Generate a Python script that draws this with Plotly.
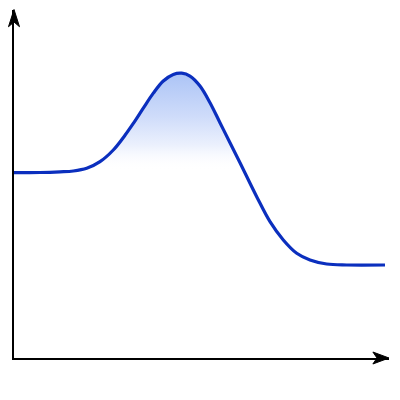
import plotly.graph_objects as go

# Reaction coordinate (x) and potential energy (y)
reaction_coord = [0, 6.93, 12.27, 15.81, 19.39, 22.93, 26.48, 29.60, 31.81, 34.48,
                  37.15, 39.81, 42.48, 44.72, 46.93, 49.60, 52.27, 54.93, 57.60,
                  60.27, 64.72, 68.27, 71.81, 75.39, 78.93, 83.39, 88.72, 98.93]
energy = [53.25, 53.30, 53.50, 53.74, 54.51, 56.41, 59.77, 64.00, 67.40, 71.80,
          76.10, 79.60, 81.50, 81.84, 81.03, 78.16, 73.36, 67.61, 61.87,
          56.12, 46.35, 39.17, 33.91, 30.09, 28.16, 27.01, 26.72, 26.72]

fig = go.Figure()
fig.add_trace(go.Scatter(
    x=reaction_coord, y=energy, mode="lines",
    line=dict(color="#0b2fbe", width=3.2, shape="spline", smoothing=1.0),
    fill="tozeroy",
    fillgradient=dict(type="vertical", start=54.0, stop=81.8,
                      colorscale=[[0, "rgba(255,255,255,0)"],
                                  [0.25, "rgba(236,241,253,1)"],
                                  [0.55, "rgba(207,220,250,1)"],
                                  [1, "rgba(172,196,246,1)"]]),
    hoverinfo="skip", showlegend=False,
))

# arrow heads at the ends of the axes (paper coordinates)
fig.add_shape(type="path", xref="paper", yref="paper",
              path="M -0.0147,0.952 L 0,1.0014 L 0.0147,0.952 L 0,0.9655 Z",
              fillcolor="black", line=dict(color="black", width=1))
fig.add_shape(type="path", xref="paper", yref="paper",
              path="M 0.957,0.0172 L 1.0,0 L 0.957,-0.0172 L 0.968,0 Z",
              fillcolor="black", line=dict(color="black", width=1))

fig.update_layout(
    width=400, height=400,
    margin=dict(l=6, r=19, t=2, b=50),
    paper_bgcolor="white", plot_bgcolor="white",
    xaxis=dict(range=[0, 100], showgrid=False, zeroline=False, showticklabels=False,
               ticks="", showline=True, linecolor="black", linewidth=2.2, fixedrange=True),
    yaxis=dict(range=[0, 100], showgrid=False, zeroline=False, showticklabels=False,
               ticks="", showline=True, linecolor="black", linewidth=2.2, fixedrange=True),
)
fig.write_html("out.html")
